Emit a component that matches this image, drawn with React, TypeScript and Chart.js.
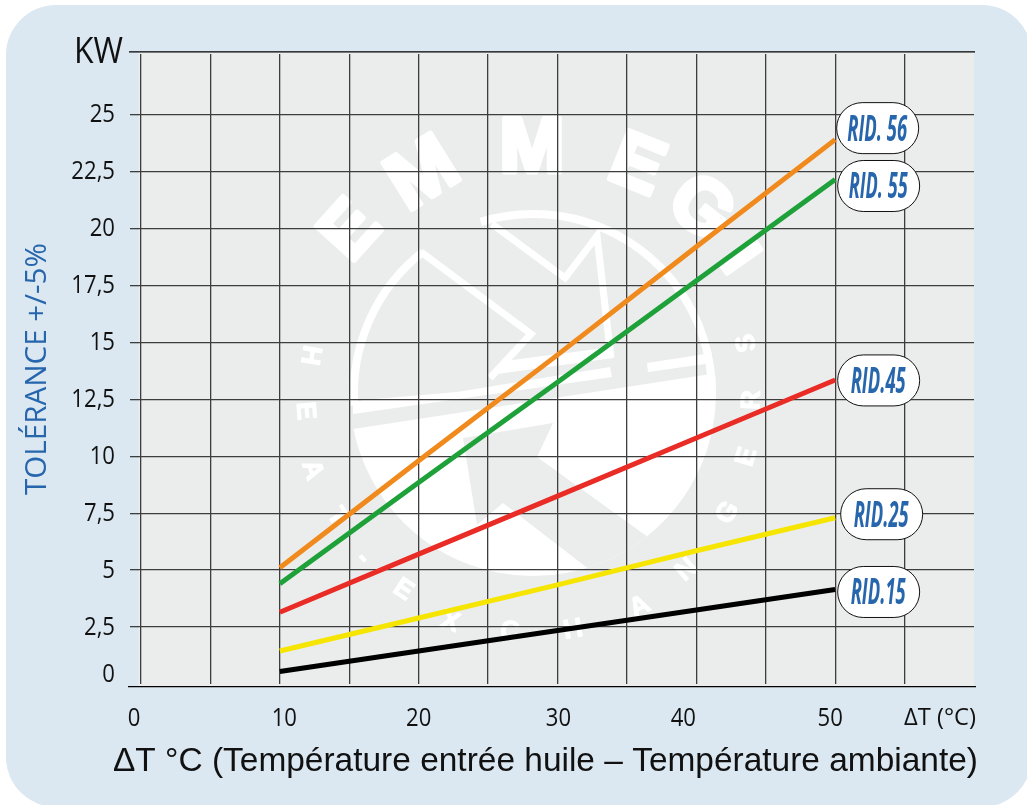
import React, { useEffect, useRef } from "react";
import { Chart, registerables } from "chart.js";

Chart.register(...registerables);

const deltaT = [10, 20, 30, 40, 50];
const rid56 = [5.1, 9.8, 14.45, 19.2, 23.9];
const rid55 = [4.4, 8.85, 13.25, 17.7, 22.15];
const rid45 = [3.15, 5.7, 8.25, 10.8, 13.35];
const rid25 = [1.45, 2.9, 4.35, 5.85, 7.3];
const rid15 = [0.55, 1.45, 2.35, 3.25, 4.15];
const seriesNames = ["RID. 56", "RID. 55", "RID.45", "RID.25", "RID.15"];
const xGridValues = [0, 5, 10, 15, 20, 25, 30, 35, 40, 45, 50, 55];
const xTickValues = [0, 10, 20, 30, 40, 50];
const yTickValues = [0, 2.5, 5, 7.5, 10, 12.5, 15, 17.5, 20, 22.5, 25];

const seriesColors = ["#f08a1d", "#1fa13a", "#e92c25", "#f5e500", "#000000"];
// styling: nudges of the hand-placed labels in the original artwork
const xLabelNudge = [-7, 4.5, 0, 1, -13, -5];
const pillNudge = [[1.5, -11.5], [2.5, 6.5], [2.5, 0.5], [5.5, -3.5], [2.5, 2.5]];
const pillTextWidth = [60, 59, 55, 55, 55];

const TICK_FONT = '"Open Sans"';
const PANEL = "#dbe8f1";
const PLOT = "#ebedec";
const BLUE = "#2766ad";
const INK = "#111";

function fitText(ctx: any, text: string, x: number, y: number, w: number, font: string, color: string, rot = 0) {
  ctx.save();
  ctx.font = font;
  ctx.fillStyle = color;
  ctx.textAlign = "left";
  ctx.textBaseline = "alphabetic";
  ctx.translate(x, y);
  ctx.rotate(rot);
  const m = ctx.measureText(text).width;
  ctx.scale(w / m, 1);
  ctx.fillText(text, 0, 0);
  ctx.restore();
}

// tick label: 26px type squeezed to the narrow proportions of the original
function tickText(ctx: any, text: string, x: number, midY: number, align: "center" | "right") {
  ctx.save();
  ctx.font = `26px ${TICK_FONT}`;
  ctx.fillStyle = INK;
  ctx.textAlign = align;
  ctx.textBaseline = "alphabetic";
  ctx.translate(x, midY + 9.3);
  ctx.scale(0.85, 1);
  ctx.fillText(text, 0, 0);
  ctx.restore();
}

function poly(ctx: any, pts: number[][], fill: string) {
  ctx.fillStyle = fill;
  ctx.beginPath();
  pts.forEach((p, i) => (i ? ctx.lineTo(p[0], p[1]) : ctx.moveTo(p[0], p[1])));
  ctx.closePath();
  ctx.fill();
}

function line(ctx: any, pts: number[][], w: number) {
  ctx.lineWidth = w;
  ctx.beginPath();
  pts.forEach((p, i) => (i ? ctx.lineTo(p[0], p[1]) : ctx.moveTo(p[0], p[1])));
  ctx.stroke();
}

const logoBig = [
  ["E", 352, 232, -48, 74],
  ["M", 424, 176, -32, 80],
  ["M", 532, 150, 0, 78],
  ["E", 636, 167, 22, 76],
  ["G", 700, 210, 38, 76],
  ["I", 738, 260, 55, 60],
];
const logoSmall = [
  ["H", 310, 355], ["E", 305, 411], ["A", 312, 470], ["T", 337, 517], ["-", 363, 558],
  ["E", 403, 590], ["X", 450, 622], ["C", 510, 632], ["H", 573, 630], ["A", 640, 607],
  ["N", 687, 570], ["G", 728, 513], ["E", 747, 457], ["R", 752, 400], ["S", 747, 343],
];

function drawWatermark(ctx: any) {
  const cx = 533, cy = 393, R = 183;
  ctx.save();
  ctx.fillStyle = "#fff";
  ctx.strokeStyle = "#fff";
  ctx.lineJoin = "miter";
  // arcs of the ring
  ctx.lineWidth = 8;
  ctx.beginPath();
  ctx.arc(cx, cy, R - 4, (-128 * Math.PI) / 180, (176 * Math.PI) / 180, true);
  ctx.stroke();
  ctx.beginPath();
  ctx.arc(cx, cy, R - 4, (-107 * Math.PI) / 180, (-2 * Math.PI) / 180, false);
  ctx.stroke();
  // inner chevrons
  line(ctx, [[421, 252], [531, 334], [490, 378]], 7);
  line(ctx, [[492, 224], [565, 278], [597, 236], [611, 358]], 7);
  poly(ctx, [[490, 375], [512, 360], [613, 347], [613, 358]], "#fff");
  poly(ctx, [[353, 403], [363, 400], [457, 392], [610, 367], [612, 377], [353, 414]], "#fff");
  poly(ctx, [[647, 363], [712, 353], [712, 363], [648, 372]], "#fff");
  // filled lower part of the disc
  ctx.save();
  ctx.beginPath();
  ctx.arc(cx, cy, R, 0, Math.PI * 2);
  ctx.clip();
  poly(ctx, [[340, 431], [730, 371], [730, 600], [340, 600]], "#fff");
  poly(ctx, [[463, 438], [553, 423], [537, 457], [648, 537], [700, 600], [610, 600], [590, 570], [503, 503], [477, 525]], PLOT);
  ctx.restore();
  // logo lettering
  ctx.textAlign = "center";
  ctx.textBaseline = "middle";
  ctx.fillStyle = "#fff";
  ctx.lineJoin = "round";
  logoBig.forEach(([t, x, y, a, s]: any) => {
    ctx.save();
    ctx.translate(x, y);
    ctx.rotate((a * Math.PI) / 180);
    ctx.font = `bold ${s}px "Liberation Sans"`;
    ctx.lineWidth = 5;
    ctx.strokeText(t, 0, 0);
    ctx.fillText(t, 0, 0);
    ctx.restore();
  });
  logoSmall.forEach(([t, x, y]: any) => {
    ctx.save();
    ctx.translate(x, y);
    ctx.rotate(Math.atan2(y - cy, x - cx) - Math.PI / 2);
    ctx.font = 'bold 27px "Liberation Sans"';
    ctx.lineWidth = 1;
    ctx.strokeText(t, 0, 0);
    ctx.fillText(t, 0, 0);
    ctx.restore();
  });
  ctx.restore();
}

const artwork = {
  id: "artwork",
  beforeDraw(chart: any) {
    const { ctx, chartArea: a } = chart;
    ctx.save();
    ctx.fillStyle = PLOT;
    ctx.fillRect(a.left, a.top - 2, a.right - a.left, a.bottom - a.top + 4.5);
    ctx.beginPath();
    ctx.rect(a.left, a.top - 2, a.right - a.left, a.bottom - a.top + 4.5);
    ctx.clip();
    drawWatermark(ctx);
    ctx.restore();
  },
  afterDraw(chart: any) {
    const { ctx, chartArea: a, scales } = chart;
    const sx = scales.x, sy = scales.y;
    ctx.save();
    // top and bottom frame rules
    ctx.strokeStyle = "#000";
    ctx.lineWidth = 1.2;
    ctx.beginPath();
    ctx.moveTo(129, a.top - 2.2);
    ctx.lineTo(a.right + 1, a.top - 2.2);
    ctx.moveTo(128, a.bottom + 2.6);
    ctx.lineTo(a.right + 2, a.bottom + 2.6);
    ctx.stroke();

    // axis labels, placed from the scales
    xTickValues.forEach((v, i) => {
      tickText(ctx, String(v), sx.getPixelForValue(v) + xLabelNudge[i], a.bottom + 33, "center");
    });
    yTickValues.forEach((v) => {
      const nudge = v === 0 ? -11 : -1.5;
      tickText(ctx, String(v).replace(".", ","), 115, sy.getPixelForValue(v) + nudge, "right");
    });
    fitText(ctx, "ΔT (°C)", 904, a.bottom + 41, 72, `24px ${TICK_FONT}`, INK);
    fitText(ctx, "KW", 74, 62.5, 49, `37px ${TICK_FONT}`, INK);
    fitText(ctx, "ΔT °C (Température entrée huile – Température ambiante)", 113, 770.5, 865, '33.5px "Liberation Sans"', INK);
    fitText(ctx, "TOLÉRANCE +/-5%", 46, 495, 252, `29px ${TICK_FONT}`, BLUE, -Math.PI / 2);

    // series name pills at the ends of the lines
    chart.data.datasets.forEach((ds: any, i: number) => {
      const last = ds.data[ds.data.length - 1];
      const px = sx.getPixelForValue(last.x);
      const py = sy.getPixelForValue(last.y);
      const w = 82, h = 51;
      const left = px + pillNudge[i][0];
      const midY = py + pillNudge[i][1];
      ctx.beginPath();
      ctx.roundRect(left, midY - h / 2, w, h, 25.5);
      ctx.fillStyle = "#fff";
      ctx.fill();
      ctx.strokeStyle = "#111";
      ctx.lineWidth = 1;
      ctx.stroke();
      const tw = pillTextWidth[i];
      fitText(ctx, ds.label, left + (w - tw) / 2 - 0.5, midY + 12.5, tw, `italic 700 36px ${TICK_FONT}`, BLUE);
    });
    ctx.restore();
  },
};

export default function App() {
  const ref = useRef<HTMLCanvasElement>(null);
  useEffect(() => {
    const mk = (label: string, values: number[], i: number) => ({
      label,
      data: values.map((y, k) => ({ x: deltaT[k], y })),
      borderColor: seriesColors[i],
      borderWidth: 5,
      pointRadius: 0,
      tension: 0,
      borderCapStyle: "butt",
      fill: false,
    });
    const grid = "#3d3d3d";
    const chart = new Chart(ref.current as any, {
      type: "line",
      data: {
        datasets: [
          mk(seriesNames[0], rid56, 0),
          mk(seriesNames[1], rid55, 1),
          mk(seriesNames[2], rid45, 2),
          mk(seriesNames[3], rid25, 3),
          mk(seriesNames[4], rid15, 4),
        ],
      } as any,
      plugins: [artwork],
      options: {
        animation: false,
        responsive: false,
        events: [],
        layout: { padding: { left: 0, top: 54, right: 53, bottom: 121 } },
        plugins: { legend: { display: false }, tooltip: { enabled: false }, title: { display: false } },
        scales: {
          x: {
            type: "linear",
            min: -0.18,
            max: 60,
            afterBuildTicks: (s: any) => {
              s.ticks = xGridValues.map((value) => ({ value }));
            },
            border: { display: false },
            grid: { color: grid, lineWidth: 1.3, drawTicks: false, tickLength: 0 },
            ticks: { display: false },
          },
          y: {
            type: "linear",
            min: 0,
            max: 27.66,
            afterBuildTicks: (s: any) => {
              s.ticks = yTickValues.map((value) => ({ value }));
            },
            afterFit: (s: any) => {
              s.width = 138.5;
            },
            border: { display: false },
            grid: {
              color: (c: any) => (c.tick && c.tick.value === 0 ? "rgba(0,0,0,0)" : grid),
              lineWidth: 1.3,
              tickLength: 8.5,
            },
            ticks: { display: false },
          },
        },
      } as any,
    });
    return () => chart.destroy();
  }, []);

  return (
    <div style={{ position: "fixed", left: 0, top: 0, width: 1027, height: 805, overflow: "hidden", background: "#fff" }}>
      <div style={{ position: "absolute", left: 6, top: 5, width: 1026, height: 802, borderRadius: 50, background: PANEL }} />
      <canvas ref={ref} width={1027} height={805} style={{ position: "absolute", left: 0, top: 0, display: "block" }} />
    </div>
  );
}
